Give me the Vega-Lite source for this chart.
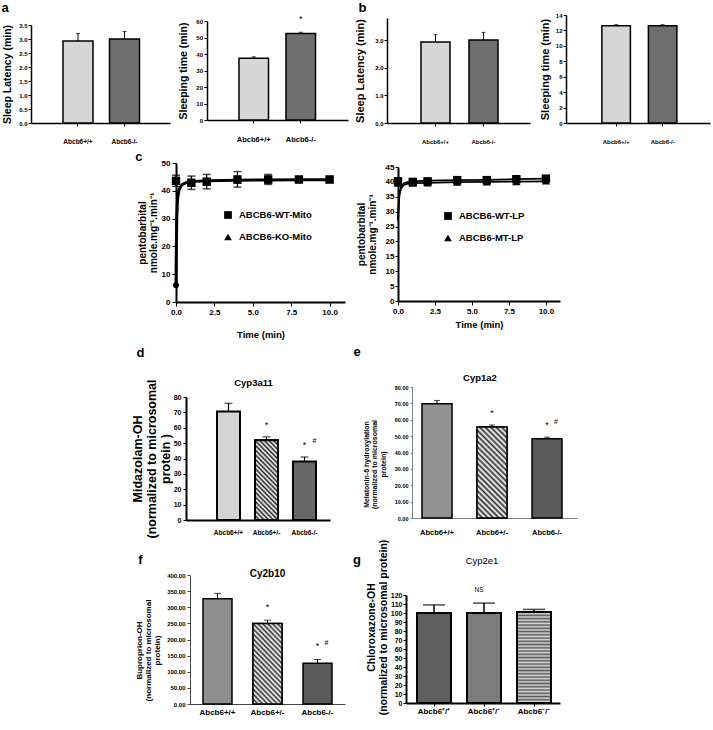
{
"$schema": "https://vega.github.io/schema/vega-lite/v6.json",
"width": 713, "height": 730, "autosize": "none", "padding": 0, "background": "white",
"config": {
 "font": "Liberation Sans",
 "view": {"stroke": null},
 "axis": {"grid": false, "domainColor": "black", "tickColor": "black", "labelColor": "black", "titleColor": "black", "labelFontWeight": "bold", "titleFontWeight": "bold", "labelOverlap": false, "labelFlush": false, "domainWidth": 1.5, "tickWidth": 1, "labelAngle": 0},
 "text": {"fontWeight": "bold", "color": "black"}
},
"resolve": {"scale": {"x": "independent", "y": "independent", "fill": "independent", "shape": "independent"}, "legend": {"shape": "independent"}},
"datasets": {
 "a1": [{"g":"Abcb6+/+","v":2.93,"t":3.2},{"g":"Abcb6-/-","v":3.0,"t":3.27}],
 "a2": [{"g":"Abcb6+/+","v":37.5,"t":38.3,"s":""},{"g":"Abcb6-/-","v":52.4,"t":53.2,"s":"*"}],
 "b1": [{"g":"Abcb6+/+","v":2.93,"t":3.2},{"g":"Abcb6-/-","v":3.0,"t":3.28}],
 "b2": [{"g":"Abcb6+/+","v":12.6,"t":12.75},{"g":"Abcb6-/-","v":12.6,"t":12.75}],
 "c1p": [
  {"t":1,"v":42.8,"s":"ABCB6-KO-Mito"},{"t":2,"v":43.2,"s":"ABCB6-KO-Mito"},{"t":4,"v":43.8,"s":"ABCB6-KO-Mito"},{"t":6,"v":43.8,"s":"ABCB6-KO-Mito"},{"t":8,"v":43.9,"s":"ABCB6-KO-Mito"},{"t":10,"v":43.9,"s":"ABCB6-KO-Mito"},
  {"t":0,"v":43.6,"lo":41.6,"hi":45.6,"s":"ABCB6-WT-Mito"},{"t":1,"v":42.9,"lo":40.5,"hi":45.3,"s":"ABCB6-WT-Mito"},{"t":2,"v":43.3,"lo":40.7,"hi":45.9,"s":"ABCB6-WT-Mito"},{"t":4,"v":44.1,"lo":41.3,"hi":46.9,"s":"ABCB6-WT-Mito"},{"t":6,"v":44.1,"lo":42.3,"hi":45.9,"s":"ABCB6-WT-Mito"},{"t":8,"v":44.1,"lo":43.4,"hi":44.8,"s":"ABCB6-WT-Mito"},{"t":10,"v":44.1,"lo":43.4,"hi":44.8,"s":"ABCB6-WT-Mito"}],
 "c1c": [{"t":0,"v":6},{"t":0.02,"v":19},{"t":0.05,"v":30},{"t":0.1,"v":37},{"t":0.2,"v":40.5},{"t":0.4,"v":42.2},{"t":0.7,"v":43},{"t":1,"v":43.3},{"t":2,"v":43.6},{"t":4,"v":43.8},{"t":6,"v":43.9},{"t":8,"v":44},{"t":10,"v":44}],
 "c2p": [
  {"t":0,"v":39.6,"s":"ABCB6-MT-LP"},{"t":1,"v":39.6,"s":"ABCB6-MT-LP"},{"t":2,"v":39.7,"s":"ABCB6-MT-LP"},{"t":4,"v":39.9,"s":"ABCB6-MT-LP"},{"t":6,"v":40,"s":"ABCB6-MT-LP"},{"t":8,"v":40.1,"s":"ABCB6-MT-LP"},{"t":10,"v":40.3,"s":"ABCB6-MT-LP"},
  {"t":0,"v":40.2,"lo":39.2,"hi":41.2,"s":"ABCB6-WT-LP"},{"t":1,"v":40.0,"lo":39.2,"hi":40.8,"s":"ABCB6-WT-LP"},{"t":2,"v":40.2,"lo":39.5,"hi":40.9,"s":"ABCB6-WT-LP"},{"t":4,"v":40.6,"lo":39.8,"hi":41.4,"s":"ABCB6-WT-LP"},{"t":6,"v":40.6,"lo":39.9,"hi":41.3,"s":"ABCB6-WT-LP"},{"t":8,"v":40.9,"lo":40.2,"hi":41.6,"s":"ABCB6-WT-LP"},{"t":10,"v":41.1,"lo":40.4,"hi":41.8,"s":"ABCB6-WT-LP"}],
 "c2c": [
  {"t":0,"v":27,"s":"WT"},{"t":0.05,"v":33,"s":"WT"},{"t":0.1,"v":36,"s":"WT"},{"t":0.2,"v":38.3,"s":"WT"},{"t":0.4,"v":39.5,"s":"WT"},{"t":0.7,"v":40,"s":"WT"},{"t":1,"v":40.2,"s":"WT"},{"t":2,"v":40.4,"s":"WT"},{"t":4,"v":40.6,"s":"WT"},{"t":6,"v":40.7,"s":"WT"},{"t":8,"v":40.9,"s":"WT"},{"t":10,"v":41.1,"s":"WT"},
  {"t":0,"v":27,"s":"MT"},{"t":0.05,"v":33,"s":"MT"},{"t":0.1,"v":35.8,"s":"MT"},{"t":0.2,"v":37.8,"s":"MT"},{"t":0.4,"v":39,"s":"MT"},{"t":0.7,"v":39.4,"s":"MT"},{"t":1,"v":39.6,"s":"MT"},{"t":2,"v":39.7,"s":"MT"},{"t":4,"v":39.9,"s":"MT"},{"t":6,"v":40,"s":"MT"},{"t":8,"v":40.1,"s":"MT"},{"t":10,"v":40.2,"s":"MT"}],
 "d": [{"g":"Abcb6+/+","v":70.5,"t":75.9,"s":"","h":""},{"g":"Abcb6+/-","v":51.8,"t":54.1,"s":"*","h":""},{"g":"Abcb6-/-","v":38,"t":41,"s":"*","h":"#"}],
 "e": [{"g":"Abcb6+/+","v":69.7,"t":71.8,"s":"","h":""},{"g":"Abcb6+/-","v":55.6,"t":56.8,"s":"*","h":""},{"g":"Abcb6-/-","v":48.4,"t":49.4,"s":"*","h":"#"}],
 "f": [{"g":"Abcb6+/+","v":326,"t":343,"s":"","h":""},{"g":"Abcb6+/-","v":250,"t":260,"s":"*","h":""},{"g":"Abcb6-/-","v":126,"t":138,"s":"*","h":"#"}],
 "g": [{"g":"Abcb6⁺/⁺","v":100,"t":109},{"g":"Abcb6⁺/⁻","v":100,"t":111},{"g":"Abcb6⁻/⁻","v":101,"t":104}]
},
"layer": [
 {
  "data": {"name": "a1"},
  "encoding": {"x": {"field":"g","type":"nominal","sort":null,"scale":{"domain":["Abcb6+/+","Abcb6-/-"],"range":[31,170],"paddingInner":0.355,"paddingOuter":0.672,"align":0.512},"axis":{"orient":"bottom","offset":-607,"title":null,"labelFontSize":6.5,"tickSize":3,"labelPadding":12}}},
  "layer": [
   {"mark":{"type":"bar","stroke":"black","strokeWidth":1.5},"encoding":{"y":{"field":"v","type":"quantitative","scale":{"domain":[0,3.5],"range":[123,25],"nice":false},"axis":{"orient":"left","offset":-31,"values":[0,0.5,1,1.5,2,2.5,3,3.5],"format":".1f","title":"Sleep Latency (min)","titleFontSize":10.5,"titlePadding":6,"labelFontSize":6,"tickSize":3,"labelPadding":1}},"fill":{"field":"g","type":"nominal","scale":{"domain":["Abcb6+/+","Abcb6-/-"],"range":["#d6d6d6","#6e6e6e"]},"legend":null}}},
   {"mark":{"type":"rule","color":"black","strokeWidth":1},"encoding":{"y":{"field":"v","type":"quantitative","scale":{"domain":[0,3.5],"range":[123,25],"nice":false}},"y2":{"field":"t"}}},
   {"mark":{"type":"tick","color":"black","size":4,"thickness":1},"encoding":{"y":{"field":"t","type":"quantitative","scale":{"domain":[0,3.5],"range":[123,25],"nice":false}}}},
   {"data":{"values":[{"g":"Abcb6+/+","y":4.1,"txt":"a"}]},"mark":{"type":"text","fontSize":13,"dx":-73},"encoding":{"y":{"field":"y","type":"quantitative","scale":{"domain":[0,3.5],"range":[123,25],"nice":false}},"text":{"field":"txt"}}}
  ]
 },
 {
  "data": {"name": "a2"},
  "encoding": {"x": {"field":"g","type":"nominal","sort":null,"scale":{"domain":["Abcb6+/+","Abcb6-/-"],"range":[207,348],"paddingInner":0.372,"paddingOuter":0.686,"align":0.496},"axis":{"orient":"bottom","offset":-610,"title":null,"labelFontSize":7.5,"tickSize":3,"labelPadding":12}}},
  "layer": [
   {"mark":{"type":"bar","stroke":"black","strokeWidth":1.5},"encoding":{"y":{"field":"v","type":"quantitative","scale":{"domain":[0,60],"range":[120,21],"nice":false},"axis":{"orient":"left","offset":-207,"values":[0,10,20,30,40,50,60],"title":"Sleeping time (min)","titleFontSize":10.5,"titlePadding":7,"labelFontSize":6,"tickSize":3,"labelPadding":1.5}},"fill":{"field":"g","type":"nominal","scale":{"domain":["Abcb6+/+","Abcb6-/-"],"range":["#d6d6d6","#6e6e6e"]},"legend":null}}},
   {"mark":{"type":"rule","color":"black","strokeWidth":1},"encoding":{"y":{"field":"v","type":"quantitative","scale":{"domain":[0,60],"range":[120,21],"nice":false}},"y2":{"field":"t"}}},
   {"mark":{"type":"tick","color":"black","size":4,"thickness":1},"encoding":{"y":{"field":"t","type":"quantitative","scale":{"domain":[0,60],"range":[120,21],"nice":false}}}},
   {"mark":{"type":"text","fontSize":9,"dy":-13,"fontWeight":"normal"},"encoding":{"y":{"field":"t","type":"quantitative","scale":{"domain":[0,60],"range":[120,21],"nice":false}},"text":{"field":"s"}}}
  ]
 },
 {
  "data": {"name": "b1"},
  "encoding": {"x": {"field":"g","type":"nominal","sort":null,"scale":{"domain":["Abcb6+/+","Abcb6-/-"],"range":[387,530],"paddingInner":0.396,"paddingOuter":0.6875,"align":0.515},"axis":{"orient":"bottom","offset":-607,"title":null,"labelFontSize":6,"tickSize":3,"labelPadding":12.5}}},
  "layer": [
   {"mark":{"type":"bar","stroke":"black","strokeWidth":1.5},"encoding":{"y":{"field":"v","type":"quantitative","scale":{"domain":[0,3.8],"range":[123,18],"nice":false},"axis":{"orient":"left","offset":-387,"values":[0,1,2,3],"title":"Sleep Latency (min)","titleFontSize":11,"titlePadding":9,"labelFontSize":6,"tickSize":3,"labelPadding":1}},"fill":{"field":"g","type":"nominal","scale":{"domain":["Abcb6+/+","Abcb6-/-"],"range":["#d6d6d6","#6e6e6e"]},"legend":null}}},
   {"mark":{"type":"rule","color":"black","strokeWidth":1},"encoding":{"y":{"field":"v","type":"quantitative","scale":{"domain":[0,3.8],"range":[123,18],"nice":false}},"y2":{"field":"t"}}},
   {"mark":{"type":"tick","color":"black","size":4,"thickness":1},"encoding":{"y":{"field":"t","type":"quantitative","scale":{"domain":[0,3.8],"range":[123,18],"nice":false}}}},
   {"data":{"values":[{"g":"Abcb6+/+","y":4.16,"txt":"b"}]},"mark":{"type":"text","fontSize":13,"dx":-73},"encoding":{"y":{"field":"y","type":"quantitative","scale":{"domain":[0,3.8],"range":[123,18],"nice":false}},"text":{"field":"txt"}}}
  ]
 },
 {
  "data": {"name": "b2"},
  "encoding": {"x": {"field":"g","type":"nominal","sort":null,"scale":{"domain":["Abcb6+/+","Abcb6-/-"],"range":[566,710],"paddingInner":0.387,"paddingOuter":0.742,"align":0.52},"axis":{"orient":"bottom","offset":-607,"title":null,"labelFontSize":6,"tickSize":3,"labelPadding":12.5}}},
  "layer": [
   {"mark":{"type":"bar","stroke":"black","strokeWidth":1.5},"encoding":{"y":{"field":"v","type":"quantitative","scale":{"domain":[0,14],"range":[123,15],"nice":false},"axis":{"orient":"left","offset":-566,"values":[0,2,4,6,8,10,12,14],"title":"Sleeping time (min)","titleFontSize":11,"titlePadding":5,"labelFontSize":6,"tickSize":3,"labelPadding":1}},"fill":{"field":"g","type":"nominal","scale":{"domain":["Abcb6+/+","Abcb6-/-"],"range":["#d6d6d6","#6e6e6e"]},"legend":null}}},
   {"mark":{"type":"rule","color":"black","strokeWidth":1},"encoding":{"y":{"field":"v","type":"quantitative","scale":{"domain":[0,14],"range":[123,15],"nice":false}},"y2":{"field":"t"}}},
   {"mark":{"type":"tick","color":"black","size":4,"thickness":1},"encoding":{"y":{"field":"t","type":"quantitative","scale":{"domain":[0,14],"range":[123,15],"nice":false}}}}
  ]
 },
 {
  "data": {"name": "c1p"},
  "encoding": {"x": {"field":"t","type":"quantitative","scale":{"domain":[0,11],"range":[176,345],"nice":false,"zero":false},"axis":{"orient":"bottom","offset":-428,"values":[0,2.5,5,7.5,10],"format":".1f","title":"Time (min)","titleFontSize":9.5,"titlePadding":13,"labelFontSize":8,"tickSize":4,"labelPadding":2,"domainWidth":2}}},
  "layer": [
   {"data":{"name":"c1c"},"mark":{"type":"line","color":"black","strokeWidth":3},"encoding":{"y":{"field":"v","type":"quantitative","scale":{"domain":[0,50],"range":[302,163],"nice":false},"axis":{"orient":"left","offset":-176,"values":[0,10,20,30,40,50],"title":["pentobarbital","nmole.mg⁻¹.min⁻¹"],"titleFontSize":10,"titleLineHeight":11,"titlePadding":3,"labelFontSize":8,"tickSize":4,"labelPadding":2,"domainWidth":2}}}},
   {"data":{"name":"c1c"},"transform":[{"filter":"datum.t === 0"}],"mark":{"type":"circle","color":"black","opacity":1,"size":35},"encoding":{"y":{"field":"v","type":"quantitative","scale":{"domain":[0,50],"range":[302,163],"nice":false}}}},
   {"transform":[{"filter":"datum.hi != null"}],"mark":{"type":"rule","color":"black","strokeWidth":1.2},"encoding":{"y":{"field":"lo","type":"quantitative","scale":{"domain":[0,50],"range":[302,163],"nice":false}},"y2":{"field":"hi"}}},
   {"transform":[{"filter":"datum.hi != null"}],"mark":{"type":"tick","orient":"horizontal","color":"black","size":8,"thickness":1.5},"encoding":{"y":{"field":"hi","type":"quantitative","scale":{"domain":[0,50],"range":[302,163],"nice":false}}}},
   {"transform":[{"filter":"datum.hi != null"}],"mark":{"type":"tick","orient":"horizontal","color":"black","size":8,"thickness":1.5},"encoding":{"y":{"field":"lo","type":"quantitative","scale":{"domain":[0,50],"range":[302,163],"nice":false}}}},
   {"mark":{"type":"point","filled":true,"color":"black","opacity":1,"size":70},"encoding":{"y":{"field":"v","type":"quantitative","scale":{"domain":[0,50],"range":[302,163],"nice":false}},"shape":{"field":"s","type":"nominal","scale":{"domain":["ABCB6-WT-Mito","ABCB6-KO-Mito"],"range":["square","triangle-up"]},"legend":{"orient":"none","legendX":223,"legendY":210,"title":null,"labelFontSize":9.5,"labelFontWeight":"bold","labelColor":"black","symbolSize":60,"symbolFillColor":"black","symbolStrokeColor":"black","rowPadding":8,"labelOffset":6,"padding":0}}}},
   {"data":{"values":[{"t":-2.41,"v":52.2,"txt":"c"}]},"mark":{"type":"text","fontSize":13},"encoding":{"y":{"field":"v","type":"quantitative","scale":{"domain":[0,50],"range":[302,163],"nice":false}},"text":{"field":"txt"}}}
  ]
 },
 {
  "data": {"name": "c2p"},
  "encoding": {"x": {"field":"t","type":"quantitative","scale":{"domain":[0,10.95],"range":[398,560],"nice":false,"zero":false},"axis":{"orient":"bottom","offset":-429,"values":[0,2.5,5,7.5,10],"format":".1f","title":"Time (min)","titleFontSize":9.5,"titlePadding":4,"labelFontSize":8,"tickSize":4,"labelPadding":2,"domainWidth":2}}},
  "layer": [
   {"data":{"name":"c2c"},"mark":{"type":"line","color":"black","strokeWidth":1.8},"encoding":{"detail":{"field":"s"},"y":{"field":"v","type":"quantitative","scale":{"domain":[0,45],"range":[301,167],"nice":false},"axis":{"orient":"left","offset":-398,"values":[0,5,10,15,20,25,30,35,40,45],"title":["pentobarbital","nmole.mg⁻¹.min⁻¹"],"titleFontSize":10,"titleLineHeight":11,"titlePadding":8,"labelFontSize":8,"tickSize":3,"labelPadding":1,"domainWidth":2}}}},
   {"transform":[{"filter":"datum.hi != null"}],"mark":{"type":"rule","color":"black","strokeWidth":1.2},"encoding":{"y":{"field":"lo","type":"quantitative","scale":{"domain":[0,45],"range":[301,167],"nice":false}},"y2":{"field":"hi"}}},
   {"transform":[{"filter":"datum.hi != null"}],"mark":{"type":"tick","orient":"horizontal","color":"black","size":8,"thickness":1.5},"encoding":{"y":{"field":"hi","type":"quantitative","scale":{"domain":[0,45],"range":[301,167],"nice":false}}}},
   {"transform":[{"filter":"datum.hi != null"}],"mark":{"type":"tick","orient":"horizontal","color":"black","size":8,"thickness":1.5},"encoding":{"y":{"field":"lo","type":"quantitative","scale":{"domain":[0,45],"range":[301,167],"nice":false}}}},
   {"mark":{"type":"point","filled":true,"color":"black","opacity":1,"size":70},"encoding":{"y":{"field":"v","type":"quantitative","scale":{"domain":[0,45],"range":[301,167],"nice":false}},"shape":{"field":"s","type":"nominal","scale":{"domain":["ABCB6-WT-LP","ABCB6-MT-LP"],"range":["square","triangle-up"]},"legend":{"orient":"none","legendX":443,"legendY":211,"title":null,"labelFontSize":9.5,"labelFontWeight":"bold","labelColor":"black","symbolSize":60,"symbolFillColor":"black","symbolStrokeColor":"black","rowPadding":8,"labelOffset":6,"padding":0}}}}
  ]
 },
 {
  "data": {"name": "d"},
  "encoding": {"x": {"field":"g","type":"nominal","sort":null,"scale":{"domain":["Abcb6+/+","Abcb6+/-","Abcb6-/-"],"range":[186,330],"paddingInner":0.395,"paddingOuter":0.592,"align":0.689},"axis":{"orient":"bottom","offset":-210,"title":null,"labelFontSize":6.5,"ticks":false,"labelPadding":9.5,"domainWidth":2}}},
  "layer": [
   {"mark":{"type":"bar","stroke":"black","strokeWidth":2},"encoding":{"y":{"field":"v","type":"quantitative","scale":{"domain":[0,80],"range":[520,397],"nice":false},"axis":{"orient":"left","offset":-186,"values":[0,10,20,30,40,50,60,70,80],"title":["Midazolam-OH","(normalized to microsomal","protein )"],"titleFontSize":12.5,"titleLineHeight":14,"titlePadding":1,"labelFontSize":7,"tickSize":3,"labelPadding":2,"domainWidth":2}},"fill":{"field":"g","type":"nominal","scale":{"domain":["Abcb6+/+","Abcb6+/-","Abcb6-/-"],"range":["#d4d4d4","#999999","#686868"]},"legend":null}}},
   {"transform":[{"filter":"datum.g === 'Abcb6+/-'"}],"mark":{"type":"bar","stroke":"black","strokeWidth":2,"fill":{"gradient":"linear","x1":0,"y1":1,"x2":0.351,"y2":-0.191,"stops":[{"offset":0,"color":"#222"},{"offset":0.0227,"color":"#fff"},{"offset":0.0455,"color":"#222"},{"offset":0.0682,"color":"#fff"},{"offset":0.0909,"color":"#222"},{"offset":0.1136,"color":"#fff"},{"offset":0.1364,"color":"#222"},{"offset":0.1591,"color":"#fff"},{"offset":0.1818,"color":"#222"},{"offset":0.2045,"color":"#fff"},{"offset":0.2273,"color":"#222"},{"offset":0.25,"color":"#fff"},{"offset":0.2727,"color":"#222"},{"offset":0.2955,"color":"#fff"},{"offset":0.3182,"color":"#222"},{"offset":0.3409,"color":"#fff"},{"offset":0.3636,"color":"#222"},{"offset":0.3864,"color":"#fff"},{"offset":0.4091,"color":"#222"},{"offset":0.4318,"color":"#fff"},{"offset":0.4545,"color":"#222"},{"offset":0.4773,"color":"#fff"},{"offset":0.5,"color":"#222"},{"offset":0.5227,"color":"#fff"},{"offset":0.5455,"color":"#222"},{"offset":0.5682,"color":"#fff"},{"offset":0.5909,"color":"#222"},{"offset":0.6136,"color":"#fff"},{"offset":0.6364,"color":"#222"},{"offset":0.6591,"color":"#fff"},{"offset":0.6818,"color":"#222"},{"offset":0.7045,"color":"#fff"},{"offset":0.7273,"color":"#222"},{"offset":0.75,"color":"#fff"},{"offset":0.7727,"color":"#222"},{"offset":0.7955,"color":"#fff"},{"offset":0.8182,"color":"#222"},{"offset":0.8409,"color":"#fff"},{"offset":0.8636,"color":"#222"},{"offset":0.8864,"color":"#fff"},{"offset":0.9091,"color":"#222"},{"offset":0.9318,"color":"#fff"},{"offset":0.9545,"color":"#222"},{"offset":0.9773,"color":"#fff"},{"offset":1,"color":"#222"}]}},"encoding":{"y":{"field":"v","type":"quantitative","scale":{"domain":[0,80],"range":[520,397],"nice":false}}}},
   {"mark":{"type":"rule","color":"black","strokeWidth":1.2},"encoding":{"y":{"field":"v","type":"quantitative","scale":{"domain":[0,80],"range":[520,397],"nice":false}},"y2":{"field":"t"}}},
   {"mark":{"type":"tick","color":"black","size":8,"thickness":1.2},"encoding":{"y":{"field":"t","type":"quantitative","scale":{"domain":[0,80],"range":[520,397],"nice":false}}}},
   {"mark":{"type":"text","fontSize":9,"dy":-12,"fontWeight":"normal"},"encoding":{"y":{"field":"t","type":"quantitative","scale":{"domain":[0,80],"range":[520,397],"nice":false}},"text":{"field":"s"}}},
   {"mark":{"type":"text","fontSize":7,"dx":10,"dy":-16,"fontWeight":"normal"},"encoding":{"y":{"field":"t","type":"quantitative","scale":{"domain":[0,80],"range":[520,397],"nice":false}},"text":{"field":"h"}}},
   {"data":{"values":[{"g":"Abcb6+/-","y":89,"txt":"Cyp3a11"}]},"mark":{"type":"text","fontSize":9.5,"dx":-13},"encoding":{"y":{"field":"y","type":"quantitative","scale":{"domain":[0,80],"range":[520,397],"nice":false}},"text":{"field":"txt"}}},
   {"data":{"values":[{"g":"Abcb6+/+","y":108.6,"txt":"d"}]},"mark":{"type":"text","fontSize":13,"dx":-88},"encoding":{"y":{"field":"y","type":"quantitative","scale":{"domain":[0,80],"range":[520,397],"nice":false}},"text":{"field":"txt"}}}
  ]
 },
 {
  "data": {"name": "e"},
  "encoding": {"x": {"field":"g","type":"nominal","sort":null,"scale":{"domain":["Abcb6+/+","Abcb6+/-","Abcb6-/-"],"range":[412,577],"paddingInner":0.4545,"paddingOuter":0.227,"align":0.4},"axis":{"orient":"bottom","offset":-212,"title":null,"labelFontSize":7.5,"ticks":false,"labelPadding":10,"domainWidth":1,"domainColor":"#808080"}}},
  "layer": [
   {"mark":{"type":"bar","stroke":"black","strokeWidth":1.5},"encoding":{"y":{"field":"v","type":"quantitative","scale":{"domain":[0,80],"range":[518,387],"nice":false},"axis":{"orient":"left","offset":-412,"values":[0,10,20,30,40,50,60,70,80],"format":".2f","title":["Melatonin-6 hydroxylation","(normalized to microsomal","protein)"],"titleFontSize":7,"titleLineHeight":8.5,"titlePadding":8,"titleY":464,"labelFontSize":5.5,"tickSize":2,"labelPadding":2,"domainWidth":1,"domainColor":"#808080","tickColor":"#808080"}},"fill":{"field":"g","type":"nominal","scale":{"domain":["Abcb6+/+","Abcb6+/-","Abcb6-/-"],"range":["#929292","#aaaaaa","#5a5a5a"]},"legend":null}}},
   {"transform":[{"filter":"datum.g === 'Abcb6+/-'"}],"mark":{"type":"bar","stroke":"black","strokeWidth":1.5,"fill":{"gradient":"linear","x1":0,"y1":1,"x2":0.395,"y2":-0.199,"stops":[{"offset":0,"color":"#333"},{"offset":0.0227,"color":"#fff"},{"offset":0.0455,"color":"#333"},{"offset":0.0682,"color":"#fff"},{"offset":0.0909,"color":"#333"},{"offset":0.1136,"color":"#fff"},{"offset":0.1364,"color":"#333"},{"offset":0.1591,"color":"#fff"},{"offset":0.1818,"color":"#333"},{"offset":0.2045,"color":"#fff"},{"offset":0.2273,"color":"#333"},{"offset":0.25,"color":"#fff"},{"offset":0.2727,"color":"#333"},{"offset":0.2955,"color":"#fff"},{"offset":0.3182,"color":"#333"},{"offset":0.3409,"color":"#fff"},{"offset":0.3636,"color":"#333"},{"offset":0.3864,"color":"#fff"},{"offset":0.4091,"color":"#333"},{"offset":0.4318,"color":"#fff"},{"offset":0.4545,"color":"#333"},{"offset":0.4773,"color":"#fff"},{"offset":0.5,"color":"#333"},{"offset":0.5227,"color":"#fff"},{"offset":0.5455,"color":"#333"},{"offset":0.5682,"color":"#fff"},{"offset":0.5909,"color":"#333"},{"offset":0.6136,"color":"#fff"},{"offset":0.6364,"color":"#333"},{"offset":0.6591,"color":"#fff"},{"offset":0.6818,"color":"#333"},{"offset":0.7045,"color":"#fff"},{"offset":0.7273,"color":"#333"},{"offset":0.75,"color":"#fff"},{"offset":0.7727,"color":"#333"},{"offset":0.7955,"color":"#fff"},{"offset":0.8182,"color":"#333"},{"offset":0.8409,"color":"#fff"},{"offset":0.8636,"color":"#333"},{"offset":0.8864,"color":"#fff"},{"offset":0.9091,"color":"#333"},{"offset":0.9318,"color":"#fff"},{"offset":0.9545,"color":"#333"},{"offset":0.9773,"color":"#fff"},{"offset":1,"color":"#333"}]}},"encoding":{"y":{"field":"v","type":"quantitative","scale":{"domain":[0,80],"range":[518,387],"nice":false}}}},
   {"mark":{"type":"rule","color":"black","strokeWidth":1},"encoding":{"y":{"field":"v","type":"quantitative","scale":{"domain":[0,80],"range":[518,387],"nice":false}},"y2":{"field":"t"}}},
   {"mark":{"type":"tick","color":"black","size":6,"thickness":1},"encoding":{"y":{"field":"t","type":"quantitative","scale":{"domain":[0,80],"range":[518,387],"nice":false}}}},
   {"mark":{"type":"text","fontSize":9,"dy":-12,"fontWeight":"normal"},"encoding":{"y":{"field":"t","type":"quantitative","scale":{"domain":[0,80],"range":[518,387],"nice":false}},"text":{"field":"s"}}},
   {"mark":{"type":"text","fontSize":7,"dx":9,"dy":-15,"fontWeight":"normal"},"encoding":{"y":{"field":"t","type":"quantitative","scale":{"domain":[0,80],"range":[518,387],"nice":false}},"text":{"field":"h"}}},
   {"data":{"values":[{"g":"Abcb6+/-","y":85.5,"txt":"Cyp1a2"}]},"mark":{"type":"text","fontSize":9.5,"dx":-12},"encoding":{"y":{"field":"y","type":"quantitative","scale":{"domain":[0,80],"range":[518,387],"nice":false}},"text":{"field":"txt"}}},
   {"data":{"values":[{"g":"Abcb6+/+","y":101.4,"txt":"e"}]},"mark":{"type":"text","fontSize":13,"dx":-80},"encoding":{"y":{"field":"y","type":"quantitative","scale":{"domain":[0,80],"range":[518,387],"nice":false}},"text":{"field":"txt"}}}
  ]
 },
 {
  "data": {"name": "f"},
  "encoding": {"x": {"field":"g","type":"nominal","sort":null,"scale":{"domain":["Abcb6+/+","Abcb6+/-","Abcb6-/-"],"range":[190,345],"paddingInner":0.42,"paddingOuter":0.26,"align":0.5},"axis":{"orient":"bottom","offset":-26,"title":null,"labelFontSize":8,"ticks":false,"labelPadding":4,"domainWidth":1,"domainColor":"#444"}}},
  "layer": [
   {"mark":{"type":"bar","stroke":"black","strokeWidth":1.5},"encoding":{"y":{"field":"v","type":"quantitative","scale":{"domain":[0,400],"range":[704,575],"nice":false},"axis":{"orient":"left","offset":-190,"values":[0,50,100,150,200,250,300,350,400],"format":".2f","title":["Buproprion-OH","(normalized to microsomal","protein)"],"titleFontSize":8,"titleLineHeight":9,"titlePadding":5,"titleY":650,"labelFontSize":6,"tickSize":3,"labelPadding":2,"domainWidth":1,"domainColor":"#444","tickColor":"#444"}},"fill":{"field":"g","type":"nominal","scale":{"domain":["Abcb6+/+","Abcb6+/-","Abcb6-/-"],"range":["#8e8e8e","#aaaaaa","#5a5a5a"]},"legend":null}}},
   {"transform":[{"filter":"datum.g === 'Abcb6+/-'"}],"mark":{"type":"bar","stroke":"black","strokeWidth":1.5,"fill":{"gradient":"linear","x1":0,"y1":1,"x2":0.446,"y2":-0.205,"stops":[{"offset":0,"color":"#333"},{"offset":0.0227,"color":"#fff"},{"offset":0.0455,"color":"#333"},{"offset":0.0682,"color":"#fff"},{"offset":0.0909,"color":"#333"},{"offset":0.1136,"color":"#fff"},{"offset":0.1364,"color":"#333"},{"offset":0.1591,"color":"#fff"},{"offset":0.1818,"color":"#333"},{"offset":0.2045,"color":"#fff"},{"offset":0.2273,"color":"#333"},{"offset":0.25,"color":"#fff"},{"offset":0.2727,"color":"#333"},{"offset":0.2955,"color":"#fff"},{"offset":0.3182,"color":"#333"},{"offset":0.3409,"color":"#fff"},{"offset":0.3636,"color":"#333"},{"offset":0.3864,"color":"#fff"},{"offset":0.4091,"color":"#333"},{"offset":0.4318,"color":"#fff"},{"offset":0.4545,"color":"#333"},{"offset":0.4773,"color":"#fff"},{"offset":0.5,"color":"#333"},{"offset":0.5227,"color":"#fff"},{"offset":0.5455,"color":"#333"},{"offset":0.5682,"color":"#fff"},{"offset":0.5909,"color":"#333"},{"offset":0.6136,"color":"#fff"},{"offset":0.6364,"color":"#333"},{"offset":0.6591,"color":"#fff"},{"offset":0.6818,"color":"#333"},{"offset":0.7045,"color":"#fff"},{"offset":0.7273,"color":"#333"},{"offset":0.75,"color":"#fff"},{"offset":0.7727,"color":"#333"},{"offset":0.7955,"color":"#fff"},{"offset":0.8182,"color":"#333"},{"offset":0.8409,"color":"#fff"},{"offset":0.8636,"color":"#333"},{"offset":0.8864,"color":"#fff"},{"offset":0.9091,"color":"#333"},{"offset":0.9318,"color":"#fff"},{"offset":0.9545,"color":"#333"},{"offset":0.9773,"color":"#fff"},{"offset":1,"color":"#333"}]}},"encoding":{"y":{"field":"v","type":"quantitative","scale":{"domain":[0,400],"range":[704,575],"nice":false}}}},
   {"mark":{"type":"rule","color":"black","strokeWidth":1},"encoding":{"y":{"field":"v","type":"quantitative","scale":{"domain":[0,400],"range":[704,575],"nice":false}},"y2":{"field":"t"}}},
   {"mark":{"type":"tick","color":"black","size":7,"thickness":1},"encoding":{"y":{"field":"t","type":"quantitative","scale":{"domain":[0,400],"range":[704,575],"nice":false}}}},
   {"mark":{"type":"text","fontSize":9,"dy":-13,"fontWeight":"normal"},"encoding":{"y":{"field":"t","type":"quantitative","scale":{"domain":[0,400],"range":[704,575],"nice":false}},"text":{"field":"s"}}},
   {"mark":{"type":"text","fontSize":7,"dx":9,"dy":-16,"fontWeight":"normal"},"encoding":{"y":{"field":"t","type":"quantitative","scale":{"domain":[0,400],"range":[704,575],"nice":false}},"text":{"field":"h"}}},
   {"data":{"values":[{"g":"Abcb6+/-","y":403,"txt":"Cy2b10"}]},"mark":{"type":"text","fontSize":10},"encoding":{"y":{"field":"y","type":"quantitative","scale":{"domain":[0,400],"range":[704,575],"nice":false}},"text":{"field":"txt"}}},
   {"data":{"values":[{"g":"Abcb6+/+","y":446.5,"txt":"f"}]},"mark":{"type":"text","fontSize":13,"dx":-77},"encoding":{"y":{"field":"y","type":"quantitative","scale":{"domain":[0,400],"range":[704,575],"nice":false}},"text":{"field":"txt"}}}
  ]
 },
 {
  "data": {"name": "g"},
  "encoding": {"x": {"field":"g","type":"nominal","sort":null,"scale":{"domain":["Abcb6⁺/⁺","Abcb6⁺/⁻","Abcb6⁻/⁻"],"range":[406,560],"paddingInner":0.32,"paddingOuter":0.2,"align":0.55},"axis":{"orient":"bottom","offset":-27,"title":null,"labelFontSize":8,"tickSize":3,"labelPadding":1,"domainWidth":2}}},
  "layer": [
   {"mark":{"type":"bar","stroke":"black","strokeWidth":2},"encoding":{"y":{"field":"v","type":"quantitative","scale":{"domain":[0,120],"range":[703,595],"nice":false},"axis":{"orient":"left","offset":-406,"values":[0,10,20,30,40,50,60,70,80,90,100,110,120],"title":["Chloroxazone-OH","(normalized to microsomal protein)"],"titleFontSize":10.5,"titleLineHeight":12,"titlePadding":2,"titleY":627,"labelFontSize":7,"tickSize":3,"labelPadding":1,"domainWidth":2}},"fill":{"field":"g","type":"nominal","scale":{"domain":["Abcb6⁺/⁺","Abcb6⁺/⁻","Abcb6⁻/⁻"],"range":["#5e5e5e","#7c7c7c","#999999"]},"legend":null}}},
   {"transform":[{"filter":"datum.g === 'Abcb6⁻/⁻'"}],"mark":{"type":"bar","stroke":"black","strokeWidth":2,"fill":{"gradient":"linear","x1":0,"y1":0,"x2":0,"y2":1,"stops":[{"offset":0,"color":"#5a5a5a"},{"offset":0.0179,"color":"#d8d8d8"},{"offset":0.0357,"color":"#5a5a5a"},{"offset":0.0536,"color":"#d8d8d8"},{"offset":0.0714,"color":"#5a5a5a"},{"offset":0.0893,"color":"#d8d8d8"},{"offset":0.1071,"color":"#5a5a5a"},{"offset":0.125,"color":"#d8d8d8"},{"offset":0.1429,"color":"#5a5a5a"},{"offset":0.1607,"color":"#d8d8d8"},{"offset":0.1786,"color":"#5a5a5a"},{"offset":0.1964,"color":"#d8d8d8"},{"offset":0.2143,"color":"#5a5a5a"},{"offset":0.2321,"color":"#d8d8d8"},{"offset":0.25,"color":"#5a5a5a"},{"offset":0.2679,"color":"#d8d8d8"},{"offset":0.2857,"color":"#5a5a5a"},{"offset":0.3036,"color":"#d8d8d8"},{"offset":0.3214,"color":"#5a5a5a"},{"offset":0.3393,"color":"#d8d8d8"},{"offset":0.3571,"color":"#5a5a5a"},{"offset":0.375,"color":"#d8d8d8"},{"offset":0.3929,"color":"#5a5a5a"},{"offset":0.4107,"color":"#d8d8d8"},{"offset":0.4286,"color":"#5a5a5a"},{"offset":0.4464,"color":"#d8d8d8"},{"offset":0.4643,"color":"#5a5a5a"},{"offset":0.4821,"color":"#d8d8d8"},{"offset":0.5,"color":"#5a5a5a"},{"offset":0.5179,"color":"#d8d8d8"},{"offset":0.5357,"color":"#5a5a5a"},{"offset":0.5536,"color":"#d8d8d8"},{"offset":0.5714,"color":"#5a5a5a"},{"offset":0.5893,"color":"#d8d8d8"},{"offset":0.6071,"color":"#5a5a5a"},{"offset":0.625,"color":"#d8d8d8"},{"offset":0.6429,"color":"#5a5a5a"},{"offset":0.6607,"color":"#d8d8d8"},{"offset":0.6786,"color":"#5a5a5a"},{"offset":0.6964,"color":"#d8d8d8"},{"offset":0.7143,"color":"#5a5a5a"},{"offset":0.7321,"color":"#d8d8d8"},{"offset":0.75,"color":"#5a5a5a"},{"offset":0.7679,"color":"#d8d8d8"},{"offset":0.7857,"color":"#5a5a5a"},{"offset":0.8036,"color":"#d8d8d8"},{"offset":0.8214,"color":"#5a5a5a"},{"offset":0.8393,"color":"#d8d8d8"},{"offset":0.8571,"color":"#5a5a5a"},{"offset":0.875,"color":"#d8d8d8"},{"offset":0.8929,"color":"#5a5a5a"},{"offset":0.9107,"color":"#d8d8d8"},{"offset":0.9286,"color":"#5a5a5a"},{"offset":0.9464,"color":"#d8d8d8"},{"offset":0.9643,"color":"#5a5a5a"},{"offset":0.9821,"color":"#d8d8d8"},{"offset":1,"color":"#5a5a5a"}]}},"encoding":{"y":{"field":"v","type":"quantitative","scale":{"domain":[0,120],"range":[703,595],"nice":false}}}},
   {"mark":{"type":"rule","color":"black","strokeWidth":1.5},"encoding":{"y":{"field":"v","type":"quantitative","scale":{"domain":[0,120],"range":[703,595],"nice":false}},"y2":{"field":"t"}}},
   {"mark":{"type":"tick","color":"black","size":22,"thickness":1.5},"encoding":{"y":{"field":"t","type":"quantitative","scale":{"domain":[0,120],"range":[703,595],"nice":false}}}},
   {"data":{"values":[{"g":"Abcb6⁺/⁻","y":125.5,"txt":"NS"}]},"mark":{"type":"text","fontSize":6.5,"dx":-5,"fontWeight":"normal"},"encoding":{"y":{"field":"y","type":"quantitative","scale":{"domain":[0,120],"range":[703,595],"nice":false}},"text":{"field":"txt"}}},
   {"data":{"values":[{"g":"Abcb6⁺/⁻","y":157.8,"txt":"Cyp2e1"}]},"mark":{"type":"text","fontSize":9.5,"dx":-2,"fontWeight":"normal"},"encoding":{"y":{"field":"y","type":"quantitative","scale":{"domain":[0,120],"range":[703,595],"nice":false}},"text":{"field":"txt"}}},
   {"data":{"values":[{"g":"Abcb6⁺/⁺","y":158.9,"txt":"g"}]},"mark":{"type":"text","fontSize":13,"dx":-77},"encoding":{"y":{"field":"y","type":"quantitative","scale":{"domain":[0,120],"range":[703,595],"nice":false}},"text":{"field":"txt"}}}
  ]
 }
]
}
